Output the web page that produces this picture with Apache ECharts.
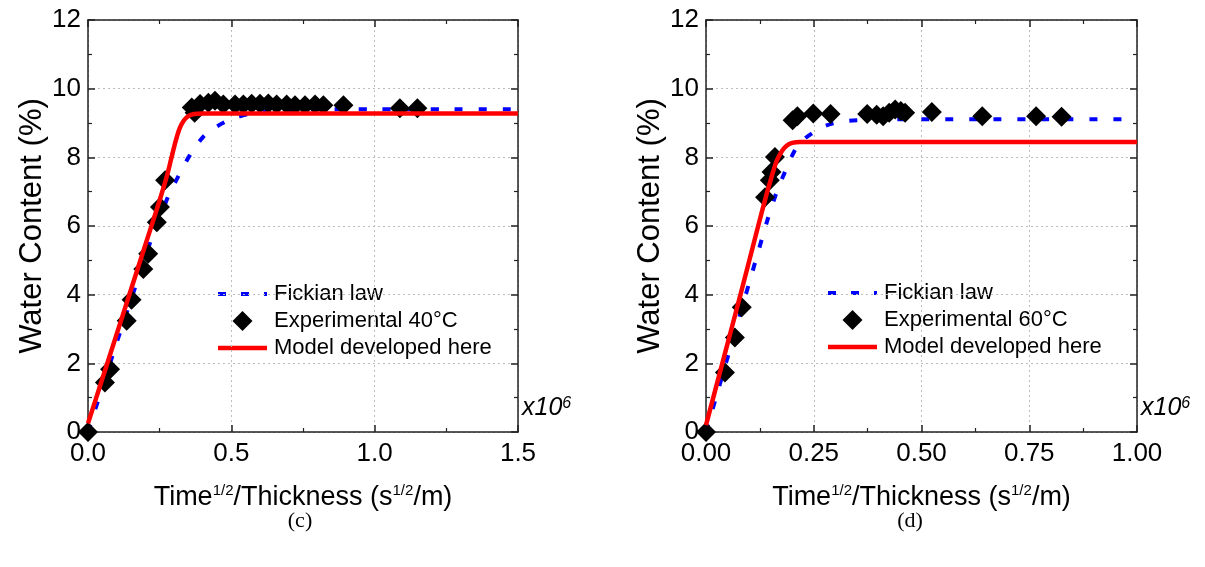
<!DOCTYPE html>
<html><head><meta charset="utf-8">
<script src="https://cdn.jsdelivr.net/npm/echarts@6/dist/echarts.min.js"></script>
<style>html,body{margin:0;padding:0;background:#fff}#c{width:1205px;height:567px}</style>
</head><body><div id="c"></div>
<script>
// ---------- data (x in units of 1e6 s^1/2/m, y in %) ----------
const xTicksC = [0, 0.5, 1.0, 1.5];
const xTicksD = [0, 0.25, 0.5, 0.75, 1.0];
const yTicks = [0, 2, 4, 6, 8, 10, 12];

const exp40X = [0, 0.059, 0.077, 0.135, 0.152, 0.193, 0.210, 0.240, 0.251, 0.269, 0.362, 0.372, 0.391, 0.420, 0.443, 0.472, 0.513, 0.542, 0.571, 0.600, 0.629, 0.658, 0.693, 0.722, 0.757, 0.792, 0.821, 0.891, 1.088, 1.149];
const exp40Y = [0, 1.44, 1.83, 3.24, 3.85, 4.75, 5.19, 6.11, 6.55, 7.33, 9.45, 9.30, 9.55, 9.59, 9.65, 9.54, 9.54, 9.54, 9.56, 9.56, 9.57, 9.54, 9.54, 9.52, 9.52, 9.54, 9.52, 9.52, 9.43, 9.43];

const fick40X = [0, 0.05, 0.1, 0.16, 0.216, 0.25, 0.279, 0.314, 0.356, 0.401, 0.44, 0.478, 0.52, 0.57, 0.62, 0.7, 0.8, 1.0, 1.25, 1.5];
const fick40Y = [0, 1.3, 2.6, 4.1, 5.5, 6.2, 6.85, 7.43, 8.07, 8.59, 8.85, 9.03, 9.17, 9.28, 9.34, 9.38, 9.4, 9.4, 9.4, 9.4];

const model40X = [0, 0.05, 0.1, 0.15, 0.2, 0.25, 0.275, 0.29, 0.305, 0.32, 0.335, 0.35, 0.37, 0.4, 0.5, 1.0, 1.5];
const model40Y = [0.25, 1.55, 2.85, 4.15, 5.45, 6.75, 7.45, 7.95, 8.45, 8.85, 9.08, 9.2, 9.26, 9.28, 9.28, 9.28, 9.28];

const exp60X = [0, 0.044, 0.067, 0.083, 0.137, 0.148, 0.152, 0.160, 0.201, 0.212, 0.249, 0.289, 0.374, 0.396, 0.411, 0.425, 0.439, 0.452, 0.462, 0.524, 0.641, 0.766, 0.825];
const exp60Y = [0, 1.73, 2.75, 3.63, 6.84, 7.33, 7.57, 8.01, 9.08, 9.2, 9.28, 9.26, 9.26, 9.24, 9.2, 9.3, 9.39, 9.35, 9.3, 9.32, 9.2, 9.2, 9.18];

const fick60X = [0, 0.03, 0.06, 0.09, 0.12, 0.142, 0.163, 0.183, 0.206, 0.225, 0.246, 0.27, 0.295, 0.32, 0.35, 0.4, 0.5, 0.75, 1.0];
const fick60Y = [0, 1.3, 2.6, 3.9, 5.2, 6.15, 6.95, 7.57, 8.2, 8.5, 8.7, 8.88, 8.99, 9.05, 9.08, 9.1, 9.11, 9.11, 9.11];

const model60X = [0, 0.04, 0.08, 0.12, 0.14, 0.152, 0.164, 0.176, 0.187, 0.2, 0.218, 0.25, 0.5, 1.0];
const model60Y = [0.2, 2.1, 4.0, 5.95, 6.9, 7.42, 7.9, 8.18, 8.34, 8.42, 8.45, 8.45, 8.45, 8.45];

const namesC = ['Fickian law', 'Experimental 40°C', 'Model developed here'];
const namesD = ['Fickian law', 'Experimental 60°C', 'Model developed here'];

// ---------- helpers ----------
const zip = (xs, ys) => xs.map((x, i) => [x, ys[i]]);
const FONT = '"Liberation Sans", Arial, sans-serif';
const AX = '#222';
const BLUE = '#0000ff', RED = '#ff0000';

function xAx(grid, ticks, dec, pos) {
  const main = pos === 'bottom';
  return {
    type: 'value', gridIndex: grid, position: pos,
    min: ticks[0], max: ticks[ticks.length - 1], interval: ticks[1] - ticks[0],
    axisLine: { show: true, onZero: false, lineStyle: { color: AX, width: 1.5 } },
    axisTick: { show: true, inside: true, length: 7, lineStyle: { color: AX, width: 1.5 } },
    minorTick: { show: true, splitNumber: 2, length: 4, lineStyle: { color: AX, width: 1.2 } },
    axisLabel: { show: main, fontSize: 26, color: '#000', fontFamily: FONT, margin: 9,
      formatter: v => v.toFixed(dec) },
    splitLine: { show: main, lineStyle: { color: '#bdbdbd', type: [2, 3], width: 1 } },
    minorSplitLine: { show: false },
    name: main ? 'Time{s|1/2}/Thickness (s{s|1/2}/m)' : '',
    nameLocation: 'middle', nameGap: 51,
    nameTextStyle: { fontSize: 27, color: '#000', fontFamily: FONT,
      rich: { s: { fontSize: 15, color: '#000', fontFamily: FONT, verticalAlign: 'top', lineHeight: 30 } } }
  };
}
function yAx(grid, pos) {
  const main = pos === 'left';
  return {
    type: 'value', gridIndex: grid, position: pos,
    min: yTicks[0], max: yTicks[yTicks.length - 1], interval: yTicks[1] - yTicks[0],
    axisLine: { show: true, onZero: false, lineStyle: { color: AX, width: 1.5 } },
    axisTick: { show: true, inside: true, length: 7, lineStyle: { color: AX, width: 1.5 } },
    minorTick: { show: true, splitNumber: 2, length: 4, lineStyle: { color: AX, width: 1.2 } },
    axisLabel: { show: main, fontSize: 26, color: '#000', fontFamily: FONT, margin: 7 },
    splitLine: { show: main, lineStyle: { color: '#bdbdbd', type: [2, 3], width: 1 } },
    name: main ? 'Water Content (%)' : '',
    nameLocation: 'middle', nameGap: 40, nameRotate: 90,
    nameTextStyle: { fontSize: 31, color: '#000', fontFamily: FONT }
  };
}
function seriesSet(xi, yi, names, fx, fy, ex, ey, mx, my) {
  return [
    { name: names[0], type: 'line', xAxisIndex: xi, yAxisIndex: yi, data: zip(fx, fy),
      symbol: 'none', showSymbol: false, smooth: 0.3, z: 2,
      lineStyle: { color: BLUE, width: 4, type: [8, 16] }, itemStyle: { color: BLUE } },
    { name: names[1], type: 'scatter', xAxisIndex: xi, yAxisIndex: yi, data: zip(ex, ey),
      symbol: 'diamond', symbolSize: 20, z: 3, itemStyle: { color: '#000', opacity: 1 } },
    { name: names[2], type: 'line', xAxisIndex: xi, yAxisIndex: yi, data: zip(mx, my),
      symbol: 'none', showSymbol: false, smooth: 0.3, z: 4,
      lineStyle: { color: RED, width: 4.5, type: 'solid' }, itemStyle: { color: RED } }
  ];
}
// legend drawn as graphic group (keeps the thick dashed sample and square diamond)
function legendGroup(names, x, y) {
  const W = 49, pitch = 27;
  const txt = (i) => ({ type: 'text', x: W + 7, y: i * pitch, style: { text: names[i], fontSize: 22,
    fontFamily: FONT, fill: '#000', verticalAlign: 'middle', align: 'left' } });
  return { type: 'group', x: x, y: y, z: 20, children: [
    { type: 'line', shape: { x1: 0, y1: 0, x2: W, y2: 0 }, style: { stroke: BLUE, lineWidth: 4, lineDash: [8, 15] } },
    txt(0),
    { type: 'polygon', shape: { points: [[W / 2, pitch - 10], [W / 2 + 10, pitch], [W / 2, pitch + 10], [W / 2 - 10, pitch]] }, style: { fill: '#000' } },
    txt(1),
    { type: 'line', shape: { x1: 0, y1: 2 * pitch, x2: W, y2: 2 * pitch }, style: { stroke: RED, lineWidth: 4.5 } },
    txt(2)
  ] };
}
function tenLabel(x) {
  return { type: 'text', left: x, top: 396, z: 10,
    style: { text: 'x10{s|6}', fontSize: 25, fontStyle: 'italic', fontFamily: FONT, fill: '#000',
      rich: { s: { fontSize: 16, fontStyle: 'italic', fontFamily: FONT, fill: '#000', verticalAlign: 'top' } } } };
}
function caption(x, t) {
  return { type: 'text', x: x, y: 521, z: 10,
    style: { text: t, fontSize: 22, fontFamily: '"Liberation Serif", "Times New Roman", serif',
      fill: '#000', align: 'center', verticalAlign: 'middle' } };
}

const option = {
  animation: false,
  backgroundColor: '#fff',
  grid: [
    { left: 88, top: 20, width: 430, height: 412, outerBoundsMode: 'none', containLabel: false },
    { left: 706, top: 20, width: 431, height: 412, outerBoundsMode: 'none', containLabel: false }
  ],
  xAxis: [xAx(0, xTicksC, 1, 'bottom'), xAx(0, xTicksC, 1, 'top'), xAx(1, xTicksD, 2, 'bottom'), xAx(1, xTicksD, 2, 'top')],
  yAxis: [yAx(0, 'left'), yAx(0, 'right'), yAx(1, 'left'), yAx(1, 'right')],
  legend: { show: false },
  series: [
    ...seriesSet(0, 0, namesC, fick40X, fick40Y, exp40X, exp40Y, model40X, model40Y),
    ...seriesSet(2, 2, namesD, fick60X, fick60Y, exp60X, exp60Y, model60X, model60Y)
  ],
  graphic: [legendGroup(namesC, 218, 294), legendGroup(namesD, 828, 293),
    tenLabel(522), tenLabel(1141), caption(300, '(c)'), caption(910, '(d)')]
};
const chart = echarts.init(document.getElementById('c'), null, { renderer: 'canvas' });
chart.setOption(option);
</script></body></html>
